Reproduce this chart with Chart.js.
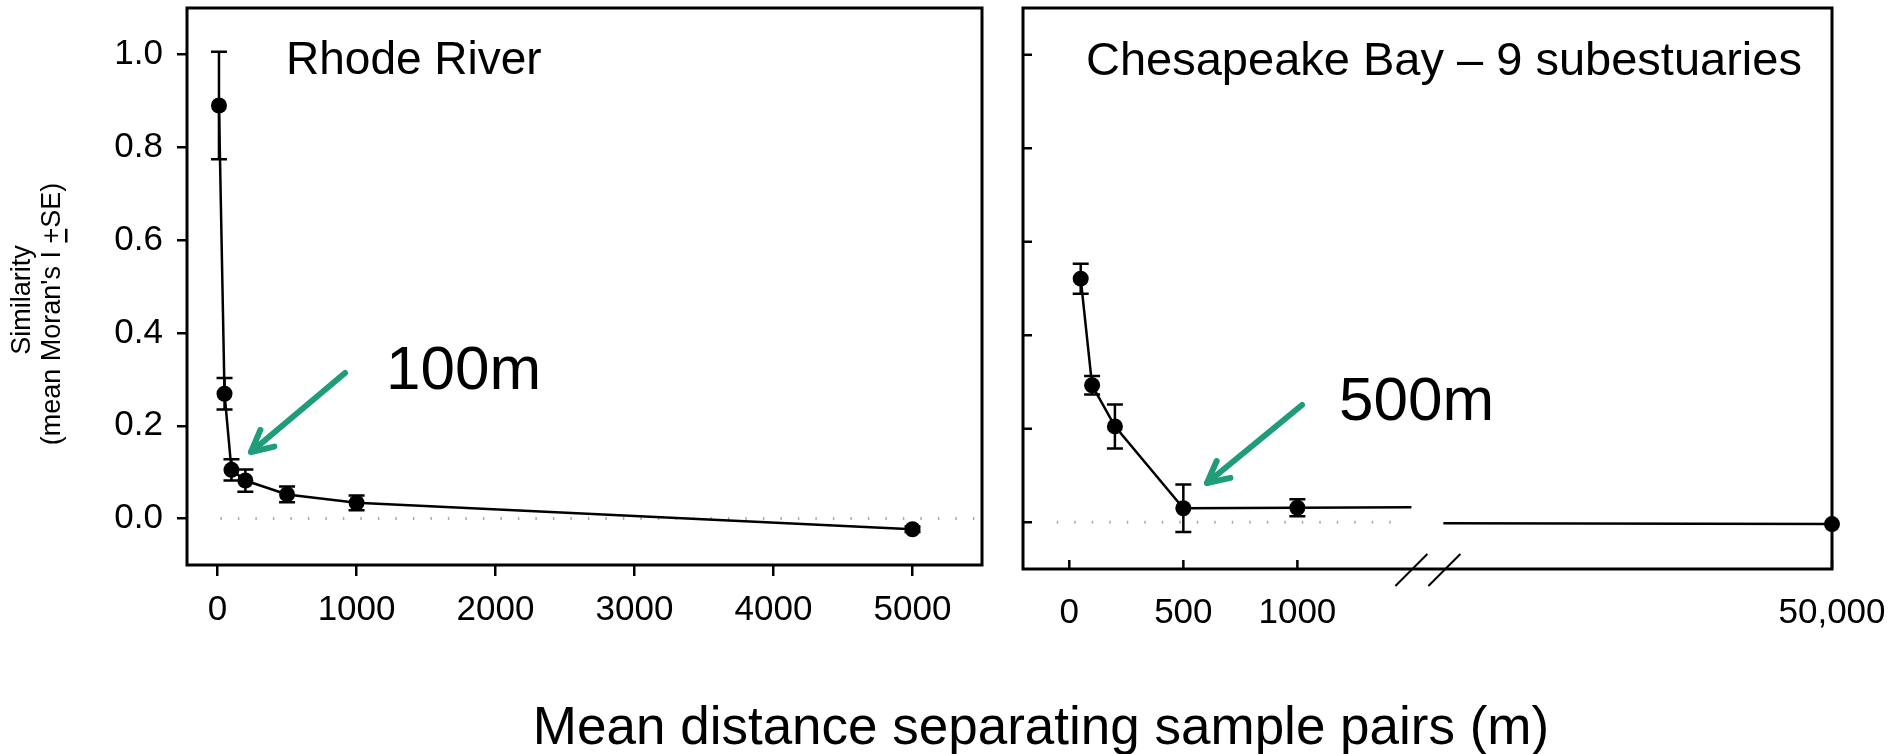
<!DOCTYPE html>
<html>
<head>
<meta charset="utf-8">
<script src="https://cdn.jsdelivr.net/npm/chart.js@4/dist/chart.umd.min.js"></script>
<style>
  html, body { margin: 0; padding: 0; background: #fff; width: 1901px; height: 754px; overflow: hidden; }
  body { font-family: 'Liberation Sans', Arial, sans-serif; }
  #left { position: absolute; left: 0; top: 0; }
  #right { position: absolute; left: 1000px; top: 0; }
  #xtitle { position: absolute; left: 1041px; top: 699px; transform: translateX(-50%);
            font-size: 53px; line-height: 53px; white-space: nowrap; color: #000; }
</style>
</head>
<body>
<canvas id="left" width="1000" height="660"></canvas>
<canvas id="right" width="901" height="660"></canvas>
<div id="xtitle">Mean distance separating sample pairs (m)</div>
<script>
// valori
const leftDistance = [10, 50, 100, 200, 500, 1000, 5000];
const leftMoran = [0.89, 0.269, 0.105, 0.082, 0.052, 0.034, -0.023];
const leftSE = [0.116, 0.034, 0.023, 0.024, 0.017, 0.016, 0.006];

const rightDistance = [50, 100, 200, 500, 1000, 50000];
const rightMoran = [0.521, 0.293, 0.205, 0.030, 0.031, -0.004];
const rightSE = [0.032, 0.020, 0.047, 0.051, 0.018, 0];
const stubMoran = [0.032, -0.002]; // la linea prima e dopo l'interruzione dell'asse

const yTicks = [0, 0.2, 0.4, 0.6, 0.8, 1.0];
const leftXTicks = [0, 1000, 2000, 3000, 4000, 5000];
const rightXTicks = [0, 500, 1000, 50000];
const rightXLabels = ['0', '500', '1000', '50,000'];

// asse spezzato: fino a 1500 lineare, poi salta direttamente a 50,000
const BRK = { from: 1500, to: 1640, end: 3344 };
const farDist = rightDistance[rightDistance.length - 1];
const axisPos = d => d <= BRK.from ? d : BRK.to + (d - BRK.from) * (BRK.end - BRK.to) / (farDist - BRK.from);

const FONT = "'Liberation Sans', Arial, sans-serif";
const GREEN = '#1f9d7a';
Chart.defaults.font.family = FONT;
Chart.defaults.color = '#000';

function arrow(ctx, x1, y1, x2, y2) {
  const a = Math.atan2(y1 - y2, x1 - x2), L = 24, s = 0.47;
  ctx.save();
  ctx.strokeStyle = GREEN; ctx.lineWidth = 6; ctx.lineCap = 'round'; ctx.lineJoin = 'round';
  ctx.beginPath(); ctx.moveTo(x1, y1); ctx.lineTo(x2, y2); ctx.stroke();
  ctx.beginPath();
  ctx.moveTo(x2 + L * Math.cos(a - s), y2 + L * Math.sin(a - s));
  ctx.lineTo(x2, y2);
  ctx.lineTo(x2 + L * Math.cos(a + s), y2 + L * Math.sin(a + s));
  ctx.stroke();
  ctx.restore();
}

function errorBars(chart, xs, ms, ses) {
  const { ctx, scales: { x, y } } = chart;
  ctx.save();
  ctx.strokeStyle = '#000'; ctx.lineWidth = 2.5;
  xs.forEach((d, i) => {
    if (!ses[i]) return;
    const px = x.getPixelForValue(d), top = y.getPixelForValue(ms[i] + ses[i]), bot = y.getPixelForValue(ms[i] - ses[i]);
    ctx.beginPath();
    ctx.moveTo(px, top); ctx.lineTo(px, bot);
    ctx.moveTo(px - 8, top); ctx.lineTo(px + 8, top);
    ctx.moveTo(px - 8, bot); ctx.lineTo(px + 8, bot);
    ctx.stroke();
  });
  ctx.restore();
}

function zeroLine(chart, fromVal, toVal) {
  const { ctx, scales: { x, y } } = chart;
  const py = y.getPixelForValue(0);
  ctx.save();
  ctx.strokeStyle = '#ababab'; ctx.lineWidth = 3; ctx.setLineDash([1.5, 16]);
  ctx.beginPath(); ctx.moveTo(x.getPixelForValue(fromVal), py); ctx.lineTo(x.getPixelForValue(toVal), py); ctx.stroke();
  ctx.restore();
}

function frame(chart) {
  const { ctx, chartArea: a } = chart;
  ctx.save();
  ctx.strokeStyle = '#000'; ctx.lineWidth = 3;
  ctx.strokeRect(a.left, a.top, a.right - a.left, a.bottom - a.top);
  ctx.restore();
}

// niente spazio extra per le etichette agli estremi
const noPad = s => { s.paddingTop = 0; s.paddingBottom = 0; s.paddingLeft = 0; s.paddingRight = 0; };

const leftPanel = {
  id: 'leftPanel',
  beforeDatasetsDraw(chart) {
    zeroLine(chart, 20, 5500);
    errorBars(chart, leftDistance, leftMoran, leftSE);
  },
  afterDraw(chart) {
    const ctx = chart.ctx;
    frame(chart);
    ctx.save();
    ctx.fillStyle = '#000';
    ctx.textBaseline = 'alphabetic';
    ctx.font = '46px ' + FONT;
    ctx.fillText('Rhode River', 286, 74);
    ctx.font = '62px ' + FONT;
    ctx.fillText('100m', 386, 389);
    // titolo asse y su due righe, con il "+" sottolineato
    ctx.font = '27px ' + FONT;
    ctx.translate(0, 306);
    ctx.rotate(-Math.PI / 2);
    ctx.textAlign = 'center'; ctx.textBaseline = 'middle';
    ctx.fillText('Similarity', 6, 23);
    const line2 = "(mean Moran's I +SE)";
    ctx.fillText(line2, -8, 53);
    const w = ctx.measureText(line2).width, pre = ctx.measureText("(mean Moran's I ").width, pw = ctx.measureText('+').width;
    const ux = -8 - w / 2 + pre;
    ctx.fillRect(ux + 1, 53 + 12, pw - 2, 2.5);
    ctx.restore();
    arrow(ctx, 345, 373, 251, 452);
  }
};

const rightPanel = {
  id: 'rightPanel',
  beforeDatasetsDraw(chart) {
    zeroLine(chart, -55, BRK.from - 40);
    errorBars(chart, rightDistance.map(axisPos), rightMoran, rightSE);
  },
  afterDraw(chart) {
    const { ctx, chartArea: a, scales: { x, y } } = chart;
    frame(chart);
    ctx.save();
    ctx.strokeStyle = '#000'; ctx.lineWidth = 2.5;
    ctx.beginPath();
    yTicks.forEach(v => { const py = y.getPixelForValue(v); ctx.moveTo(a.left, py); ctx.lineTo(a.left + 9, py); });
    rightXTicks.forEach(d => { const px = x.getPixelForValue(axisPos(d)); ctx.moveTo(px, a.bottom); ctx.lineTo(px, a.bottom - 9); });
    ctx.stroke();
    // segni dell'interruzione
    const bx = x.getPixelForValue((BRK.from + BRK.to) / 2);
    ctx.lineWidth = 2;
    ctx.beginPath();
    ctx.moveTo(bx - 32, a.bottom + 17); ctx.lineTo(bx, a.bottom - 15);
    ctx.moveTo(bx + 1, a.bottom + 17); ctx.lineTo(bx + 33, a.bottom - 15);
    ctx.stroke();
    ctx.fillStyle = '#000';
    ctx.font = '47px ' + FONT;
    ctx.fillText('Chesapeake Bay \u2013 9 subestuaries', 86, 75);
    ctx.font = '62px ' + FONT;
    ctx.fillText('500m', 339, 420);
    ctx.restore();
    arrow(ctx, 302, 405, 207, 483);
  }
};

const tickFont = { size: 35, family: FONT };

new Chart(document.getElementById('left'), {
  type: 'line',
  data: {
    datasets: [{
      data: leftDistance.map((d, i) => ({ x: d, y: leftMoran[i] })),
      borderColor: '#000', borderWidth: 2.5, tension: 0,
      pointRadius: 8, pointBackgroundColor: '#000', pointBorderWidth: 0, clip: false
    }]
  },
  options: {
    responsive: false, animation: false, events: [],
    layout: { padding: { top: 8, right: 18, left: 0, bottom: 0 } },
    plugins: { legend: { display: false }, tooltip: { enabled: false } },
    scales: {
      x: {
        type: 'linear', min: -220, max: 5500,
        afterBuildTicks: s => { s.ticks = leftXTicks.map(v => ({ value: v })); },
        afterFit: s => { s.height = 95; noPad(s); },
        grid: { drawOnChartArea: false, tickLength: 11, color: '#000', lineWidth: 2.5 },
        border: { display: false },
        ticks: { font: tickFont, padding: 13, autoSkip: false, maxRotation: 0, callback: v => String(v) }
      },
      y: {
        min: -0.1, max: 1.1,
        afterBuildTicks: s => { s.ticks = yTicks.map(v => ({ value: v })); },
        afterFit: s => { s.width = 187; noPad(s); },
        grid: { drawOnChartArea: false, tickLength: 10, color: '#000', lineWidth: 2.5 },
        border: { display: false },
        ticks: { font: tickFont, padding: 14, callback: v => v.toFixed(1) }
      }
    }
  },
  plugins: [leftPanel]
});

const rightLine = rightDistance.slice(0, 5).map((d, i) => ({ x: axisPos(d), y: rightMoran[i] }));
rightLine.push({ x: BRK.from, y: stubMoran[0] }, { x: (BRK.from + BRK.to) / 2, y: null },
               { x: BRK.to, y: stubMoran[1] }, { x: axisPos(farDist), y: rightMoran[5] });

new Chart(document.getElementById('right'), {
  type: 'line',
  data: {
    datasets: [{
      data: rightLine,
      borderColor: '#000', borderWidth: 2.5, tension: 0, pointRadius: 0, spanGaps: false, clip: false
    }, {
      data: rightDistance.map((d, i) => ({ x: axisPos(d), y: rightMoran[i] })),
      showLine: false, pointRadius: 8, pointBackgroundColor: '#000', pointBorderWidth: 0, clip: false
    }]
  },
  options: {
    responsive: false, animation: false, events: [],
    layout: { padding: { top: 5, right: 69, left: 0, bottom: 0 } },
    plugins: { legend: { display: false }, tooltip: { enabled: false } },
    scales: {
      x: {
        type: 'linear', min: -203, max: BRK.end,
        afterBuildTicks: s => { s.ticks = rightXTicks.map(d => ({ value: axisPos(d) })); },
        afterFit: s => { s.height = 91; noPad(s); },
        grid: { display: false, drawTicks: false },
        border: { display: false },
        ticks: { font: tickFont, padding: 23, autoSkip: false, maxRotation: 0, callback: (v, i) => rightXLabels[i] }
      },
      y: {
        min: -0.1, max: 1.1,
        afterBuildTicks: s => { s.ticks = yTicks.map(v => ({ value: v })); },
        afterFit: s => { s.width = 23; noPad(s); },
        grid: { display: false, drawTicks: false },
        border: { display: false },
        ticks: { display: false }
      }
    }
  },
  plugins: [rightPanel]
});
</script>
</body>
</html>
